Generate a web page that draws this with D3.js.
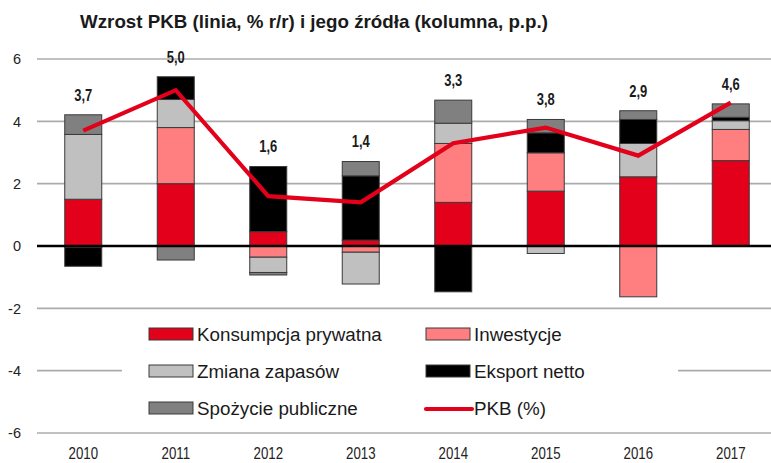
<!DOCTYPE html>
<html>
<head>
<meta charset="utf-8">
<script src="https://cdn.jsdelivr.net/npm/d3@7/dist/d3.min.js"></script>
<style>
  html, body { margin: 0; padding: 0; background: #fff; }
  svg { display: block; }
  text { font-family: "Liberation Sans", Arial, sans-serif; }
</style>
</head>
<body>
<svg id="chart" width="771" height="463"></svg>
<script>
const categories = ["2010", "2011", "2012", "2013", "2014", "2015", "2016", "2017"];
const consumption = [1.5, 2.0, 0.46, 0.19, 1.4, 1.76, 2.22, 2.74];
const investment = [-0.05, 1.8, -0.36, -0.2, 1.89, 1.23, -1.63, 1.0];
const stocks = [2.08, 0.9, -0.49, -1.02, 0.65, -0.24, 1.07, 0.28];
const netExport = [-0.6, 0.73, 2.09, 2.06, -1.47, 0.64, 0.77, 0.11];
const publicCons = [0.63, -0.45, -0.08, 0.46, 0.74, 0.43, 0.28, 0.43];
const gdp = [3.7, 5.0, 1.6, 1.4, 3.3, 3.8, 2.9, 4.6];
const gdpLabels = ["3,7", "5,0", "1,6", "1,4", "3,3", "3,8", "2,9", "4,6"];
const yTicks = [-6, -4, -2, 0, 2, 4, 6];
const seriesNames = ["Konsumpcja prywatna", "Inwestycje", "Zmiana zapasów", "Eksport netto", "Spożycie publiczne"];
const lineName = "PKB (%)";
const title = "Wzrost PKB (linia, % r/r) i jego źródła (kolumna, p.p.)";

const colors = ["#e2001a", "#ff7f80", "#c0c0c0", "#000000", "#808080"];
const lineColor = "#e2001a";

const seriesArrays = [consumption, investment, stocks, netExport, publicCons];
const keys = ["c", "i", "s", "n", "p"];
const table = categories.map((cat, j) => {
  const row = { cat };
  keys.forEach((k, i) => row[k] = seriesArrays[i][j]);
  return row;
});

const svg = d3.select("#chart");
const x = d3.scaleBand().domain(categories).range([37, 777]).paddingInner(0.6).paddingOuter(0.3);
const y = d3.scaleLinear().domain([-6, 6]).range([433, 59]);

// gridlines
svg.append("g").selectAll("line").data(yTicks.filter(d => d !== 0)).join("line")
  .attr("x1", 37).attr("x2", 771)
  .attr("y1", d => y(d)).attr("y2", d => y(d))
  .attr("stroke", "#ababab").attr("stroke-width", 1.6);

// y tick labels
svg.append("g").selectAll("text").data(yTicks).join("text")
  .attr("x", 21).attr("y", d => y(d)).attr("dy", "0.36em")
  .attr("text-anchor", "end").attr("font-size", 14.5).attr("fill", "#222")
  .text(d => d);

// x labels (narrow look)
svg.append("g").selectAll("text").data(categories).join("text")
  .attr("transform", d => `translate(${x(d) + x.bandwidth() / 2},459) scale(0.78,1)`)
  .attr("text-anchor", "middle").attr("font-size", 17).attr("fill", "#222")
  .text(d => d);

// stacked bars
const stack = d3.stack().keys(keys).offset(d3.stackOffsetDiverging);
const stacked = stack(table);
svg.append("g").selectAll("g").data(stacked).join("g")
  .attr("fill", (d, i) => colors[i])
  .selectAll("rect").data(d => d.filter(s => Math.abs(s[1] - s[0]) > 1e-9)).join("rect")
  .attr("x", d => x(d.data.cat))
  .attr("width", x.bandwidth())
  .attr("y", d => y(Math.max(d[0], d[1])))
  .attr("height", d => Math.abs(y(d[0]) - y(d[1])))
  .attr("stroke", "#3a3a3a").attr("stroke-width", 1);

// zero line
svg.append("line").attr("x1", 37).attr("x2", 771).attr("y1", y(0)).attr("y2", y(0))
  .attr("stroke", "#000").attr("stroke-width", 2.6);

// GDP line
const line = d3.line().x((d, j) => x(categories[j]) + x.bandwidth() / 2).y(d => y(d));
svg.append("path").datum(gdp).attr("d", line)
  .attr("fill", "none").attr("stroke", lineColor).attr("stroke-width", 4.2)
  .attr("stroke-linejoin", "miter");

// value labels above positive stack top
const topOf = categories.map((c, j) => d3.sum(seriesArrays, arr => Math.max(0, arr[j])));
svg.append("g").selectAll("text").data(gdpLabels).join("text")
  .attr("transform", (d, j) => `translate(${x(categories[j]) + x.bandwidth() / 2},${y(topOf[j]) - 20}) scale(0.8,1)`)
  .attr("dy", "0.36em")
  .attr("text-anchor", "middle").attr("font-size", 16.2).attr("font-weight", "bold").attr("fill", "#1a1a1a")
  .text(d => d);

// title
svg.append("text").attr("x", 80).attr("y", 28)
  .attr("font-size", 18.5).attr("font-weight", "bold").attr("fill", "#1a1a1a")
  .attr("textLength", 468).attr("lengthAdjust", "spacingAndGlyphs")
  .text(title);

// legend
const lg = svg.append("g");
lg.append("rect").attr("x", 122).attr("y", 313).attr("width", 556).attr("height", 114).attr("fill", "#fff");
const legendItems = seriesNames.map((n, i) => ({ name: n, color: colors[i], type: "rect" }));
legendItems.push({ name: lineName, color: lineColor, type: "line" });
const colX = [149, 426];
const rowY = [334, 371, 408];
legendItems.forEach((it, i) => {
  const cx = colX[i % 2], cy = rowY[Math.floor(i / 2)];
  if (it.type === "rect") {
    lg.append("rect").attr("x", cx).attr("y", cy - 6).attr("width", 44).attr("height", 12)
      .attr("fill", it.color).attr("stroke", "#3a3a3a").attr("stroke-width", 1);
  } else {
    lg.append("line").attr("x1", cx).attr("x2", cx + 46).attr("y1", cy + 1).attr("y2", cy + 1)
      .attr("stroke", it.color).attr("stroke-width", 4.2).attr("stroke-linecap", "round");
  }
  lg.append("text").attr("x", cx + 48).attr("y", cy).attr("dy", "0.36em")
    .attr("font-size", 18.8).attr("fill", "#1a1a1a").text(it.name);
});
</script>
</body>
</html>
